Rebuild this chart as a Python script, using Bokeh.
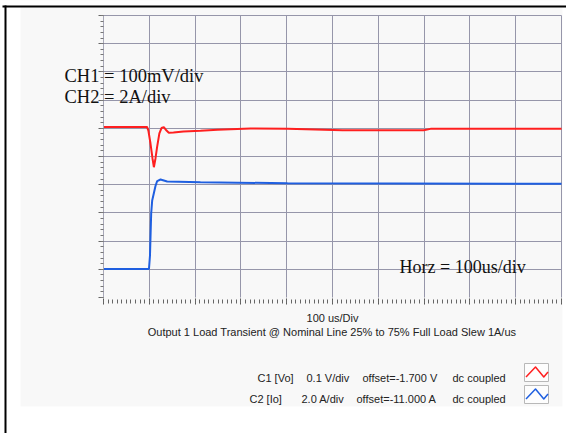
from bokeh.plotting import figure
from bokeh.models import Range1d, FixedTicker, Grid
from bokeh.core.properties import value
from bokeh.embed import file_html
from bokeh.resources import INLINE

# ---------------- data ----------------
# time in microseconds (10 divisions of 100 us)
time_vo = [0, 95, 98, 102.6, 107, 110, 113.5, 117, 122, 126.6, 131.7, 137.6,
           142.6, 152.8, 174.7, 211.8, 249, 321, 401.7, 522, 699, 714, 1000]
vo_volts = [1.805, 1.805, 1.792, 1.746, 1.693, 1.662, 1.693, 1.733, 1.782, 1.801,
            1.804, 1.792, 1.784, 1.785, 1.789, 1.791, 1.795, 1.799, 1.798, 1.793,
            1.793, 1.798, 1.798]

time_io = [0, 99.3, 101.5, 104.1, 106.3, 109.8, 113.5, 117.2, 124.5, 139,
           211.8, 401.7, 1000]
io_amps = [3.03, 3.03, 3.98, 6.96, 7.88, 8.38, 8.91, 9.26, 9.37, 9.23,
           9.18, 9.10, 9.06]

ch_names = ["C1 [Vo]", "C2 [Io]"]
ch_scale = [0.1, 2.0]            # units / div
ch_offset = [-1.7, -11.0]        # offset added before scaling
ch_scale_txt = ["0.1 V/div", "2.0 A/div"]
ch_offset_txt = ["offset=-1.700 V", "offset=-11.000 A"]
ch_coupling = ["dc coupled", "dc coupled"]
ch_colors = ["#ff1f1f", "#1f5fe0"]

x_ticks = [i * 100 for i in range(11)]     # us
x_minor = [i * 10 for i in range(101)]
y_ticks = list(range(11))                  # divisions
y_minor = [round(i * 0.2, 1) for i in range(51)]

notes = ["CH1 = 100mV/div", "CH2 = 2A/div", "Horz = 100us/div"]
x_caption = "100 us/Div"
title_txt = "Output 1 Load Transient @ Nominal Line 25% to 75% Full Load Slew 1A/us"

# ---------------- layout (pixels on the page) ----------------
W, H = 566, 433
FL, FR, FT, FB = 103, 561, 15, 297      # scope grid area


def dx(px):
    return (px - FL) / (FR - FL) * 1000.0


def dy(py):
    return (FB - py) / (FB - FT) * 10.0


def to_div(vals, k):
    return [5 + (v + ch_offset[k]) / ch_scale[k] for v in vals]


PANEL = "#f8f8f8"
GRID = "#9696aa"

p = figure(width=W, height=H, output_backend="svg", toolbar_location=None,
           x_range=Range1d(dx(0), dx(W)), y_range=Range1d(dy(H), dy(0)),
           min_border=0, min_border_left=0, min_border_right=0,
           min_border_top=0, min_border_bottom=0)
p.border_fill_color = "white"
p.background_fill_color = PANEL
p.outline_line_color = None

# white page around the grey panel, and the black frame lines
p.quad(left=[dx(-5), dx(-5), dx(-5), dx(562)], right=[dx(20), dx(W + 5), dx(W + 5), dx(W + 5)],
       top=[dy(-5), dy(406), dy(-5), dy(-5)], bottom=[dy(H + 5), dy(H + 5), dy(7), dy(H + 5)],
       fill_color="white", line_color=None)
p.quad(left=[dx(2), dx(4)], right=[dx(W + 5), dx(6)], top=[dy(5), dy(5)],
       bottom=[dy(7), dy(H + 5)], fill_color="black", line_color=None)

# ---- scope axes (drawn at fixed locations inside the canvas) ----
xt = FixedTicker(ticks=x_ticks, minor_ticks=x_minor)
yt = FixedTicker(ticks=y_ticks, minor_ticks=y_minor)

ax = p.xaxis[0]
ax.ticker = xt
ax.fixed_location = 0
ax.bounds = (0, 1000)
ax.axis_line_color = None
ax.major_tick_in = -1
ax.major_tick_out = 7
ax.minor_tick_in = -2
ax.minor_tick_out = 6
ax.major_tick_line_color = "#555555"
ax.minor_tick_line_color = "#666666"
ax.major_label_overrides = {t: "" for t in x_ticks}

ay = p.yaxis[0]
ay.ticker = yt
ay.fixed_location = 0
ay.bounds = (0, 10)
ay.axis_line_color = "#a8a8b8"
ay.major_tick_in = 0
ay.major_tick_out = 5
ay.minor_tick_in = 0
ay.minor_tick_out = 3
ay.major_tick_line_color = "#666666"
ay.minor_tick_line_color = "#777777"
ay.major_label_overrides = {t: "" for t in y_ticks}

has_cb = "cross_bounds" in Grid.properties()
if has_cb:
    p.xgrid.ticker = FixedTicker(ticks=x_ticks[1:])
    p.xgrid.bounds = (0, 1000)
    p.xgrid.cross_bounds = (0, 10)
    p.ygrid.ticker = FixedTicker(ticks=y_ticks[1:])
    p.ygrid.bounds = (0, 10)
    p.ygrid.cross_bounds = (0, 1000)
    for g in (p.xgrid, p.ygrid):
        g.grid_line_color = GRID
        g.grid_line_width = 1
else:
    p.xgrid.visible = False
    p.ygrid.visible = False
    p.segment(x0=x_ticks[1:], x1=x_ticks[1:], y0=[0] * 10, y1=[10] * 10,
              line_color=GRID, line_width=1)
    p.segment(x0=[0] * 10, x1=[1000] * 10, y0=y_ticks[1:], y1=y_ticks[1:],
              line_color=GRID, line_width=1)

# traces
p.line(time_vo, to_div(vo_volts, 0), line_color=ch_colors[0], line_width=2)
p.line(time_io, to_div(io_amps, 1), line_color=ch_colors[1], line_width=2)

# ---- texts ----
SERIF = value("Liberation Serif")
SANS = value("Liberation Sans")

p.text(x=[dx(64), dx(64)], y=[dy(75), dy(96)], text=notes[:2], text_font=SERIF,
       text_font_size="18.5px", text_color="#111111", text_baseline="alphabetic",
       text_align="left")
p.text(x=[dx(399)], y=[dy(266)], text=[notes[2]], text_font=SERIF,
       text_font_size="18px", text_color="#111111", text_baseline="alphabetic",
       text_align="left")
p.text(x=[dx(332), dx(331.5)], y=[dy(317), dy(331)], text=[x_caption, title_txt],
       text_font=SANS, text_font_size="11px", text_color="#222222",
       text_baseline="alphabetic", text_align="center")

# channel legend rows
row_base = [377.5, 398.5]
col_x = [[257, 306, 362, 452], [249, 301, 356, 452]]
lx, ly, lt = [], [], []
for k in range(2):
    pieces = [ch_names[k], ch_scale_txt[k], ch_offset_txt[k], ch_coupling[k]]
    for txt, x in zip(pieces, col_x[k]):
        lx.append(dx(x))
        ly.append(dy(row_base[k]))
        lt.append(txt)
p.text(x=lx, y=ly, text=lt, text_font=SANS, text_font_size="11px",
       text_color="#222222", text_baseline="alphabetic", text_align="left")

for k in range(2):
    top = 363 + 22 * k
    p.quad(left=[dx(524)], right=[dx(548)], top=[dy(top)], bottom=[dy(top + 18)],
           fill_color="#fdfdfd", line_color="#b8b8b8", line_width=1)
    cx = [525.5, 535, 543.3, 547.5]
    cy = [top + 13.5, top + 3.5, top + 13.5, top + 8.5]
    p.line([dx(v) for v in cx], [dy(v) for v in cy], line_color=ch_colors[k],
           line_width=1.5, line_join="round")

open("out.html", "w").write(file_html(p, INLINE))
